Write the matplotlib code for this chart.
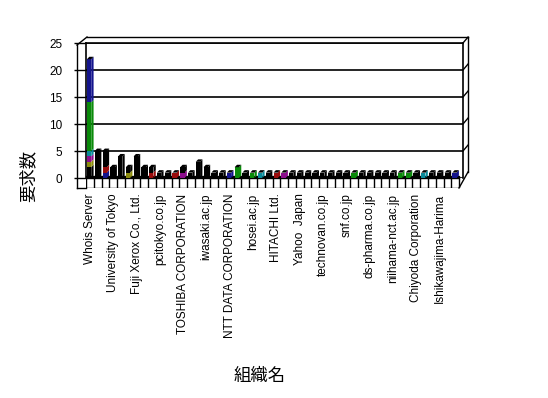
import numpy as np
import matplotlib
matplotlib.use("Agg")
import matplotlib.pyplot as plt

W, H = 548, 398

# organisation labels (every third category is labelled)
labels = ["Whois Server", "University of Tokyo", "Fuji Xerox Co., Ltd.",
          "pcitokyo.co.jp", "TOSHIBA CORPORATION", "iwasaki.ac.jp",
          "NTT DATA CORPORATION", "hosei.ac.jp", "HITACHI Ltd.",
          "Yahoo  Japan", "technovan.co.jp", "snf.co.jp", "ds-pharma.co.jp",
          "niihama-nct.ac.jp", "Chiyoda Corporation", "Ishikawajima-Harima"]
n_cat = 48
label_pos = list(range(0, 48, 3))

# request counts per series (stacked bottom -> top)
black_low = [2] + [0] * 47
olive  = [1, 0, 0, 0, 0, 1] + [0] * 42
purple = [1] + [0] * 11 + [1] + [0] * 12 + [1] + [0] * 22
purple[26] = 0
purple[25] = 1
cyan   = [0] * 48
cyan[0], cyan[22], cyan[43] = 1, 1, 1
green  = [0] * 48
green[0], green[19], green[21], green[34], green[40], green[41] = 9, 2, 1, 1, 1, 1
blue   = [0] * 48
blue[0], blue[2], blue[18], blue[47] = 8, 1, 1, 1
red    = [0] * 48
red[2], red[8], red[11], red[24] = 1, 1, 1, 1
black  = [0, 5, 3, 2, 4, 1, 4, 2, 1, 1, 1, 0, 1, 1, 3, 2, 1, 1, 0, 0,
          1, 0, 0, 1, 0, 0, 1, 1, 1, 1, 1, 1, 1, 1, 0, 1, 1, 1, 1, 1,
          0, 0, 1, 0, 1, 1, 1, 0]

series = [(black_low, "black"), (olive, "#8c8c0c"), (purple, "#8c0c8c"),
          (cyan, "#0a8a9a"), (green, "#0a8a0a"), (blue, "#14148c"),
          (red, "#9a0c0c"), (black, "black")]


def box(x0, y0, x1, y1):
    return [x0 / W, 1 - y1 / H, (x1 - x0) / W, (y1 - y0) / H]


fig = plt.figure(figsize=(W / 100, H / 100), dpi=100)
fig.patch.set_facecolor("white")

# overlay for the 3D frame edges, in pixel units
ov = fig.add_axes([0, 0, 1, 1])
ov.set_xlim(0, W)
ov.set_ylim(H, 0)
ov.axis("off")
for (x0, y0), (x1, y1) in [((77, 45), (77, 188)), ((77, 45), (87, 37)),
                           ((87, 37), (468, 37)), ((468, 37), (468, 172)),
                           ((77, 188), (86, 188)), ((459, 188), (468, 172))]:
    ov.plot([x0, x1], [y0, y1], color="black", lw=1)

ax = fig.add_axes(box(86, 43, 463, 178))
ax.set_facecolor("none")
ax.set_xlim(-0.5, 48.0)
ax.set_ylim(0, 25)
ax.set_yticks(range(0, 26, 5))
ax.yaxis.grid(True, color="black", lw=1.2)
ax.set_axisbelow(True)
ax.set_xticks([])
ax.spines["bottom"].set_visible(False)
for s in ["left", "right", "top"]:
    ax.spines[s].set_linewidth(1.2)
ax.tick_params(axis="y", length=9, width=1, pad=8, labelsize=8.5)
for t in ax.get_yticklabels():
    t.set_family("Liberation Sans")
for g in range(5, 26, 5):
    ax.plot([48.0, 48.65], [g, g + 1.1], color="black", lw=1, clip_on=False)

# floor strip
ax.fill_between([-0.5, 47.5], 0, 0.45, color="black", zorder=2)

x = np.arange(n_cat) - 0.1
w = 0.55
dx, dy = 0.3, 0.45
bottom = np.zeros(n_cat)
for vals, col in series:
    vals = np.array(vals, dtype=float)
    ax.bar(x, vals, width=w, bottom=bottom, color=col, zorder=3)
    for i in np.nonzero(vals)[0]:
        b, t = bottom[i], bottom[i] + vals[i]
        xr = x[i] + w / 2
        ax.fill([xr, xr + dx, xr + dx, xr], [b, b + dy, t + dy, t],
                color=col, zorder=3, lw=0)
    bottom += vals
for i in range(n_cat):
    xl, xr, t = x[i] - w / 2, x[i] + w / 2, bottom[i]
    ax.fill([xl, xl + dx, xr + dx, xr], [t, t + dy, t + dy, t],
            color="black", zorder=3, lw=0)

# category boxes under the floor
fl = fig.add_axes(box(86, 178, 463, 188))
fl.set_facecolor("none")
fl.set_xlim(-0.5, 48.0)
fl.set_ylim(0, 1)
fl.vlines(np.arange(n_cat + 1) - 0.5, 0, 1, color="black", lw=1)
fl.hlines([0, 1], -0.5, n_cat - 0.5, color="black", lw=1)
for s in fl.spines.values():
    s.set_visible(False)
fl.set_yticks([])
fl.set_xticks(label_pos)
fl.set_xticklabels(labels, rotation=90, fontsize=8.5, family="Liberation Sans",
                   va="top", ha="center")
fl.tick_params(axis="x", length=0, pad=4)

fig.text(28 / W, 1 - 176 / H, "要求数", rotation=90, ha="center", va="center",
         fontsize=12.5, family=["Noto Sans CJK JP", "DejaVu Sans"])
fig.text(260 / W, 1 - 376 / H, "組織名", ha="center", va="center",
         fontsize=12.5, family=["Noto Sans CJK JP", "DejaVu Sans"])

fig.savefig("out.png", dpi=100)
